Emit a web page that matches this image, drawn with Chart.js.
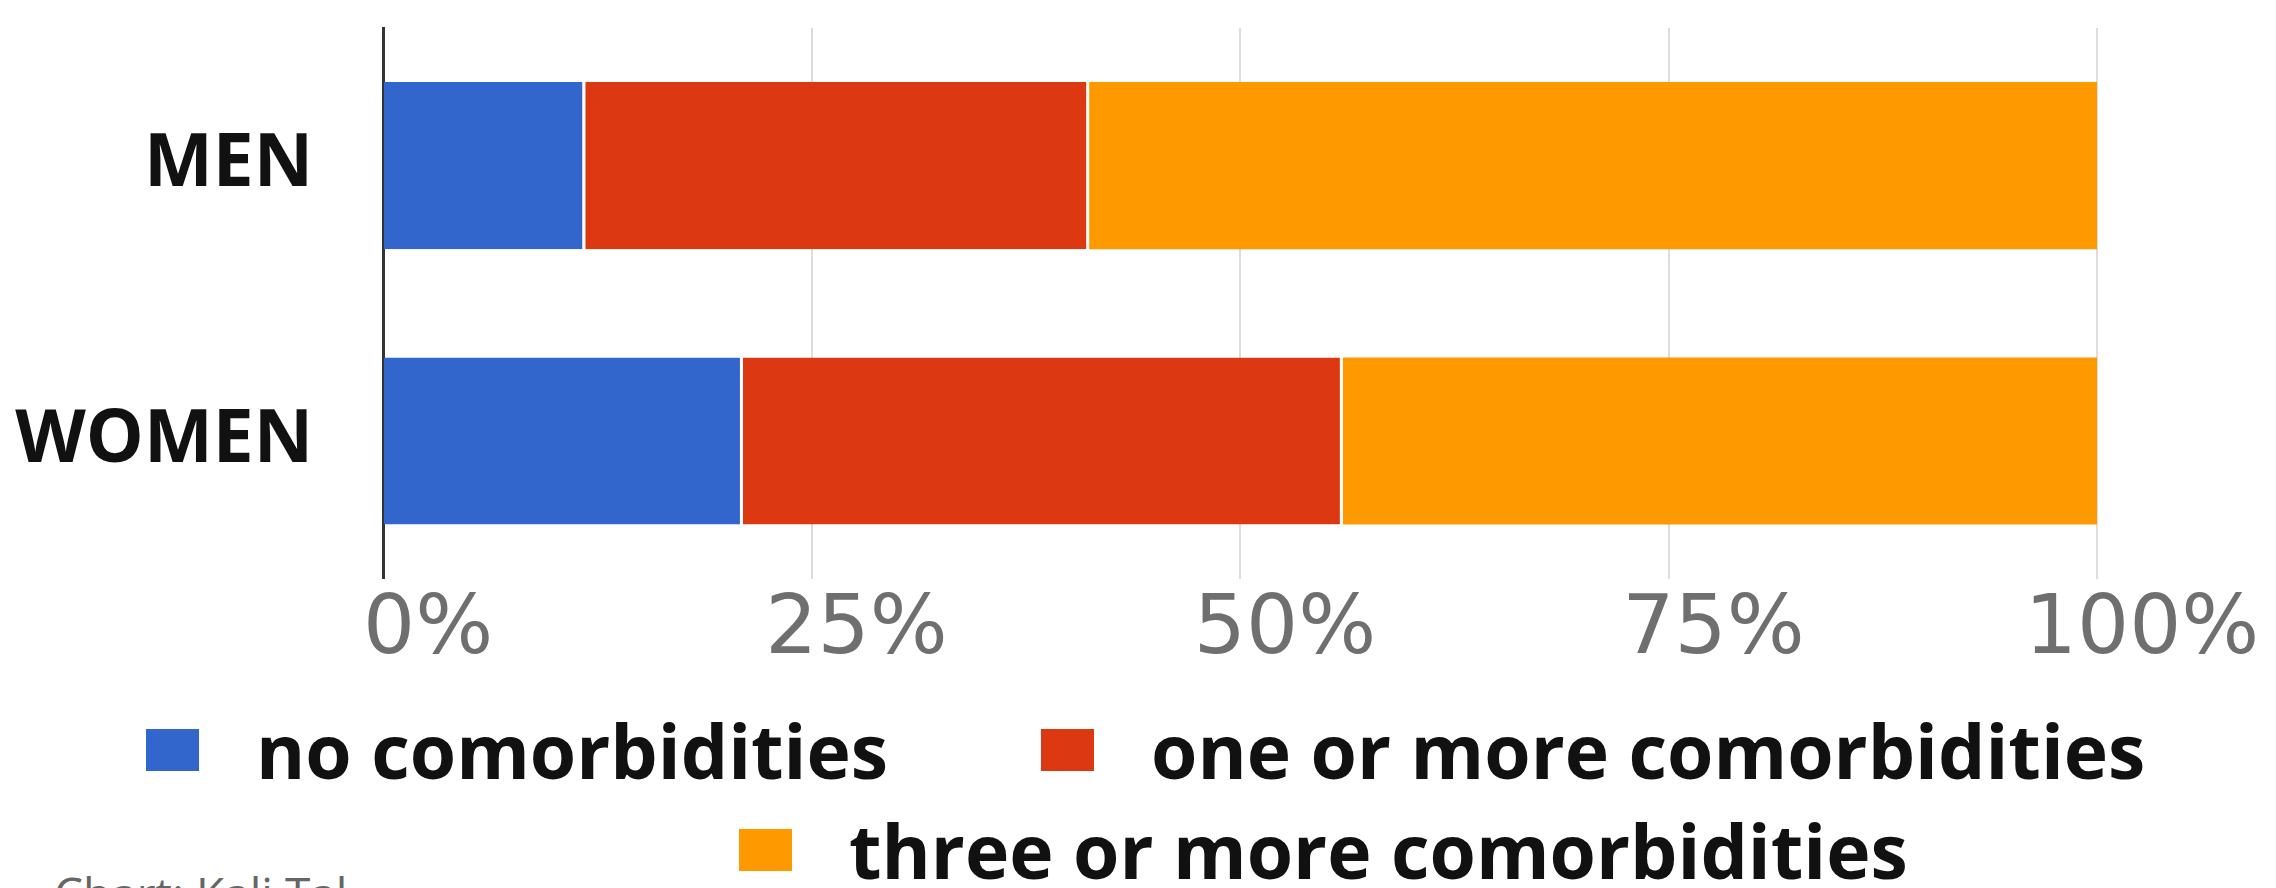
<!DOCTYPE html>
<html>
<head>
<meta charset="utf-8">
<script src="https://cdn.jsdelivr.net/npm/chart.js@4.4.1/dist/chart.umd.min.js"></script>
<style>
  html, body { margin: 0; padding: 0; background: #fff; overflow: hidden; }
  body { width: 2276px; height: 888px; position: relative; }
  #wrap { position: absolute; left: 0; top: 0; width: 2276px; height: 690px; }
  #legend { position: absolute; left: 0; top: 700px; width: 2276px; font-family: "Open Sans", sans-serif; font-weight: 700; font-size: 75px; color: #111; }
  .row { display: flex; align-items: center; height: 100px; white-space: nowrap; }
  .item { display: flex; align-items: center; }
  .box { width: 53px; height: 42px; margin-right: 57px; }
  #credit { position: absolute; left: 54px; top: 870px; font-family: "Open Sans", sans-serif; font-size: 46px; line-height: 1; color: #666; }
</style>
</head>
<body>
<div id="wrap"><canvas id="chart"></canvas></div>
<div id="legend"></div>
<div id="credit">Chart: Kali Tal</div>
<script>
// data (percent of each group)
const groups = ["MEN", "WOMEN"];
const seriesNames = ["no comorbidities", "one or more comorbidities", "three or more comorbidities"];
const noComorb = [11.8, 21.0];
const oneOrMore = [29.4, 35.0];
const threeOrMore = [58.8, 44.0];
const xTicks = [0, 25, 50, 75, 100];
const colors = ["#3366cc", "#dc3912", "#ff9900"];

const sep = { left: 0, right: 3, top: 0, bottom: 0 };

const ctx = document.getElementById("chart").getContext("2d");
const chart = new Chart(ctx, {
  type: "bar",
  data: {
    labels: groups,
    datasets: [
      { label: seriesNames[0], data: noComorb, backgroundColor: colors[0], borderColor: "#fff", borderWidth: sep, borderSkipped: false },
      { label: seriesNames[1], data: oneOrMore, backgroundColor: colors[1], borderColor: "#fff", borderWidth: sep, borderSkipped: false },
      { label: seriesNames[2], data: threeOrMore, backgroundColor: colors[2], borderWidth: 0 },
    ],
  },
  options: {
    indexAxis: "y",
    responsive: true,
    maintainAspectRatio: false,
    animation: false,
    devicePixelRatio: 1,
    layout: { padding: { top: 28, right: 179, bottom: 5, left: 0 } },
    barPercentage: 0.607,
    categoryPercentage: 1,
    plugins: {
      legend: { display: false },
      tooltip: { enabled: false },
    },
    scales: {
      x: {
        stacked: true,
        min: 0,
        max: 100,
        afterBuildTicks: (axis) => {
          axis.ticks = xTicks.map((v) => ({ value: v }));
        },
        afterFit: (scale) => {
          scale.paddingLeft = 0;
          scale.paddingRight = 0;
        },
        grid: { color: "#dddddd", lineWidth: 2, drawTicks: false },
        border: { display: false },
        ticks: {
          callback: (v) => v + "%",
          color: "#6f6f6f",
          padding: 4,
          labelOffset: 45,
          maxRotation: 0,
          font: { family: "DejaVu Sans", size: 82 },
        },
      },
      y: {
        stacked: true,
        afterFit: (scale) => {
          scale.width = 383;
          scale.paddingTop = 0;
          scale.paddingBottom = 0;
        },
        grid: { display: false, drawTicks: false },
        border: { display: true, color: "#333333", width: 3 },
        ticks: {
          color: "#111",
          padding: 70,
          font: { family: "Open Sans", size: 73, weight: "bold" },
        },
      },
    },
  },
});

// html legend built from the datasets
const legendEl = document.getElementById("legend");
const rows = [
  { pad: 146, items: [0, 1] },
  { pad: 739, items: [2] },
];
rows.forEach((r) => {
  const row = document.createElement("div");
  row.className = "row";
  row.style.paddingLeft = r.pad + "px";
  r.items.forEach((idx, k) => {
    const ds = chart.data.datasets[idx];
    const item = document.createElement("div");
    item.className = "item";
    if (k < r.items.length - 1) item.style.marginRight = "153px";
    const box = document.createElement("span");
    box.className = "box";
    box.style.background = ds.backgroundColor;
    const txt = document.createElement("span");
    txt.textContent = ds.label;
    item.appendChild(box);
    item.appendChild(txt);
    row.appendChild(item);
  });
  legendEl.appendChild(row);
});
</script>
</body>
</html>
